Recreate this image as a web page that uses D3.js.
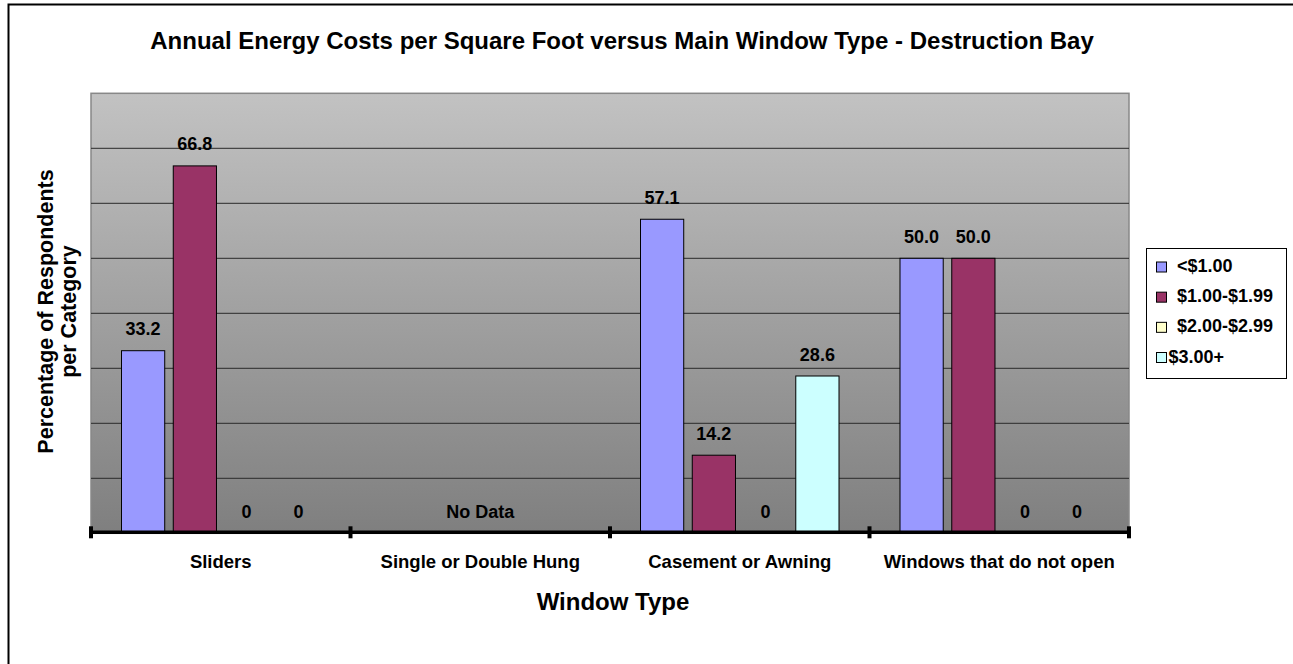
<!DOCTYPE html>
<html>
<head>
<meta charset="utf-8">
<script src="https://cdnjs.cloudflare.com/ajax/libs/d3/7.8.5/d3.min.js"></script>
<style>
  html, body { margin: 0; padding: 0; background: #fff; overflow: hidden; }
  svg { display: block; font-family: "Liberation Sans", Arial, sans-serif; }
</style>
</head>
<body>
<svg id="chart" width="1293" height="664"></svg>
<script>
// Window types along the x axis
const categories = ["Sliders", "Single or Double Hung", "Casement or Awning", "Windows that do not open"];
// Cost bands (legend series)
const series = ["<$1.00", "$1.00-$1.99", "$2.00-$2.99", "$3.00+"];
const seriesColors = ["#9999FF", "#993366", "#FFFFCC", "#CCFFFF"];
// Percentage of respondents per category, one array per window type (null = no data)
const sliders = [33.2, 66.8, 0, 0];
const singleDouble = null;
const casement = [57.1, 14.2, 0, 28.6];
const fixedWindows = [50.0, 50.0, 0, 0];
const values = [sliders, singleDouble, casement, fixedWindows];
const yTicks = [0, 10, 20, 30, 40, 50, 60, 70, 80];

const svg = d3.select("#chart");

// outer chart frame (top and left edges fall inside the page)
svg.append("path")
  .attr("d", "M8.5,664 V4.5 H1293")
  .attr("fill", "none").attr("stroke", "#000").attr("stroke-width", 2);

const plot = { left: 91, right: 1129, top: 93.3, bottom: 533.3 };

const x0 = d3.scaleBand().domain(categories).range([plot.left, plot.right]).padding(0);
const inset = 30.5;
const x1 = d3.scaleBand().domain(series)
  .range([inset, x0.bandwidth() - inset])
  .paddingInner(0.165).paddingOuter(0);
const y = d3.scaleLinear().domain([0, 80]).range([plot.bottom, plot.top]);

// plot background gradient
const defs = svg.append("defs");
const grad = defs.append("linearGradient").attr("id", "bg")
  .attr("x1", 0).attr("y1", 0).attr("x2", 0).attr("y2", 1);
grad.append("stop").attr("offset", "0%").attr("stop-color", "#c2c2c2");
grad.append("stop").attr("offset", "100%").attr("stop-color", "#7f7f7f");

svg.append("rect")
  .attr("x", plot.left).attr("y", plot.top)
  .attr("width", plot.right - plot.left).attr("height", plot.bottom - plot.top)
  .attr("fill", "url(#bg)")
  .attr("stroke", "#888").attr("stroke-width", 1.5);

// horizontal gridlines
svg.append("g")
  .selectAll("line")
  .data(yTicks.filter(t => t > 0 && t < 80))
  .join("line")
  .attr("x1", plot.left).attr("x2", plot.right)
  .attr("y1", d => y(d)).attr("y2", d => y(d))
  .attr("stroke", "#2a2a2a").attr("stroke-width", 1);

// bars
const groups = svg.append("g")
  .selectAll("g")
  .data(categories.map((c, i) => ({ c, v: values[i] })))
  .join("g")
  .attr("transform", d => `translate(${x0(d.c)},0)`);

groups.each(function (d) {
  const g = d3.select(this);
  if (!d.v) {
    g.append("text")
      .attr("x", x0.bandwidth() / 2).attr("y", y(0) - 15.5)
      .attr("text-anchor", "middle")
      .attr("font-size", 18).attr("font-weight", "bold")
      .text("No Data");
    return;
  }
  const items = series.map((s, j) => ({ s, v: d.v[j], color: seriesColors[j] }));
  g.selectAll("rect")
    .data(items.filter(it => it.v > 0))
    .join("rect")
    .attr("x", it => x1(it.s))
    .attr("y", it => y(it.v))
    .attr("width", x1.bandwidth())
    .attr("height", it => y(0) - y(it.v))
    .attr("fill", it => it.color)
    .attr("stroke", "#000").attr("stroke-width", 1);
  g.selectAll("text")
    .data(items)
    .join("text")
    .attr("x", it => x1(it.s) + x1.bandwidth() / 2)
    .attr("y", it => y(it.v) - 15.5)
    .attr("text-anchor", "middle")
    .attr("font-size", 18).attr("font-weight", "bold")
    .text(it => it.v === 0 ? "0" : it.v.toFixed(1));
});

// x axis line with category boundary ticks
const boundaries = categories.map(c => x0(c)).concat([plot.right]);
svg.append("line")
  .attr("x1", plot.left).attr("x2", plot.right + 2)
  .attr("y1", y(0) - 1).attr("y2", y(0) - 1)
  .attr("stroke", "#000").attr("stroke-width", 3.5);
svg.append("g").selectAll("line")
  .data(boundaries)
  .join("line")
  .attr("x1", d => d).attr("x2", d => d)
  .attr("y1", y(0) - 7).attr("y2", y(0) + 5)
  .attr("stroke", "#000").attr("stroke-width", 4);

// category labels
svg.append("g").selectAll("text")
  .data(categories)
  .join("text")
  .attr("x", d => x0(d) + x0.bandwidth() / 2)
  .attr("y", 568)
  .attr("text-anchor", "middle")
  .attr("font-size", 18.5).attr("font-weight", "bold")
  .text(d => d);

// titles
svg.append("text")
  .attr("x", 622).attr("y", 48.5)
  .attr("text-anchor", "middle")
  .attr("font-size", 24).attr("font-weight", "bold")
  .text("Annual Energy Costs per Square Foot versus Main Window Type - Destruction Bay");

svg.append("text")
  .attr("x", 613).attr("y", 610)
  .attr("text-anchor", "middle")
  .attr("font-size", 24).attr("font-weight", "bold")
  .text("Window Type");

const yTitle = svg.append("text")
  .attr("transform", "translate(52.5,311.5) rotate(-90)")
  .attr("text-anchor", "middle")
  .attr("font-size", 21.5).attr("font-weight", "bold");
yTitle.append("tspan").attr("x", 0).attr("dy", 0).text("Percentage of Respondents");
yTitle.append("tspan").attr("x", 0).attr("dy", 23.5).text("per Category");

// legend
const legend = svg.append("g");
legend.append("rect")
  .attr("x", 1146.5).attr("y", 248.5)
  .attr("width", 140).attr("height", 130)
  .attr("fill", "#fff").attr("stroke", "#000").attr("stroke-width", 1);
const rowY = d3.scalePoint().domain(series).range([272, 362.5]);
const li = legend.selectAll("g.item")
  .data(series.map((s, i) => ({ s, color: seriesColors[i], i })))
  .join("g").attr("class", "item");
li.append("rect")
  .attr("x", 1156.5).attr("y", d => rowY(d.s) - 10)
  .attr("width", 10).attr("height", 10)
  .attr("fill", d => d.color).attr("stroke", "#000").attr("stroke-width", 1);
li.append("text")
  .attr("x", d => d.i === 3 ? 1168.5 : 1177)
  .attr("y", d => rowY(d.s))
  .attr("font-size", 18).attr("font-weight", "bold")
  .text(d => d.s);
</script>
</body>
</html>
